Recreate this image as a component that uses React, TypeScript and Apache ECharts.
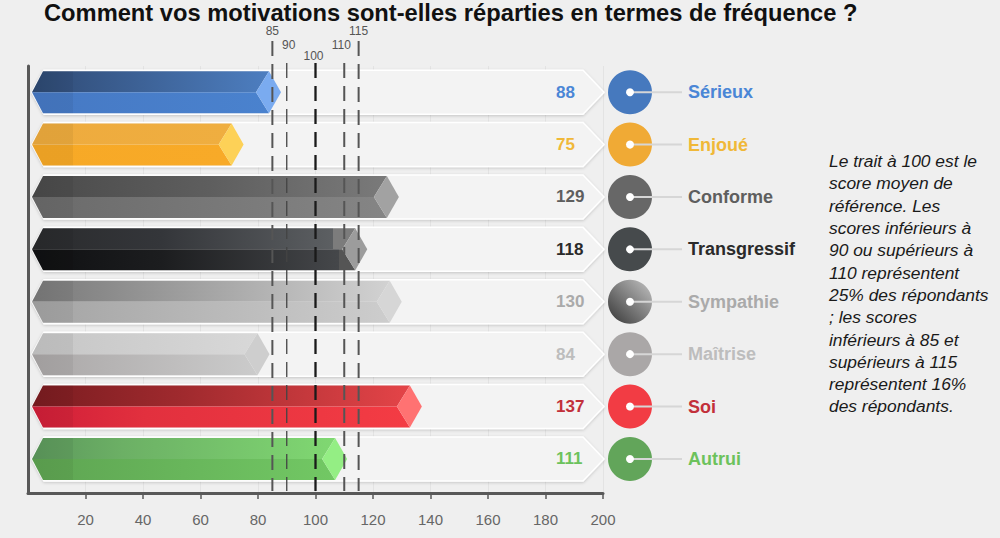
import React, { useEffect, useRef } from 'react';
import * as echarts from 'echarts';

const categories = ['Sérieux', 'Enjoué', 'Conforme', 'Transgressif', 'Sympathie', 'Maîtrise', 'Soi', 'Autrui'];
const scores = [88, 75, 129, 118, 130, 84, 137, 111];
const referenceValues = [85, 90, 100, 110, 115];
const referenceLabels = ['85', '90', '100', '110', '115'];
const axisMin = 0;
const axisMax = 200;
const axisInterval = 20;
const titleText = 'Comment vos motivations sont-elles réparties en termes de fréquence ?';
const noteLines = [
  'Le trait à 100 est le',
  'score moyen de',
  'référence. Les',
  'scores inférieurs à',
  '90 ou supérieurs à',
  '110 représentent',
  '25% des répondants',
  '; les scores',
  'inférieurs à 85 et',
  'supérieurs à 115',
  'représentent 16%',
  'des répondants.',
];

const FONT = '"Liberation Sans", Arial, sans-serif';

// styles (not data)
const palette = [
  { top: [[0, '#2d4870'], [0.15, '#34527f'], [1, '#4d7ec0']], bottom: [[0, '#4679c4'], [1, '#4a82ce']], cap: '#7aabf0', text: '#4a86d6', circle: '#4679be' },
  { top: [[0, '#eeab3e'], [1, '#efae40']], bottom: [[0, '#f7a926'], [1, '#f8aa28']], cap: '#fdd157', text: '#f0b838', circle: '#f0aa35' },
  { top: [[0, '#4a4a4a'], [0.5, '#5e5e5e'], [1, '#7a7a7a']], bottom: [[0, '#6a6a6a'], [1, '#858585']], cap: '#a2a2a2', text: '#5e5e5e', circle: '#676767' },
  { top: [[0, '#2a2b2d'], [0.4, '#34363a'], [0.93, '#5c5f62'], [0.93, '#7c7c7c'], [1, '#7c7c7c']], bottom: [[0, '#0f1012'], [0.4, '#1c1d1f'], [0.95, '#45474a'], [0.95, '#555555'], [1, '#555555']], cap: '#9c9c9c', text: '#2a2a2a', circle: '#464a4c' },
  { top: [[0, '#7a7a7a'], [0.2, '#8a8a8a'], [1, '#d2d2d2']], bottom: [[0, '#a4a4a4'], [1, '#cdcdcd']], cap: '#d6d6d6', text: '#aaaaaa', circle: 'gradient' },
  { top: [[0, '#c6c6c6'], [1, '#d8d8d8']], bottom: [[0, '#aaa7a7'], [1, '#cbcbcb']], cap: '#cecece', text: '#bdbdbd', circle: '#aaa7a7' },
  { top: [[0, '#7a1c20'], [0.4, '#a02a2e'], [1, '#e44448']], bottom: [[0, '#d01e38'], [0.3, '#e2303e'], [1, '#f43c44']], cap: '#ff7272', text: '#c2303a', circle: '#f23c44' },
  { top: [[0, '#5c985c'], [0.3, '#6cb065'], [1, '#80d872']], bottom: [[0, '#5ea452'], [1, '#72c864']], cap: '#94ee84', text: '#6cc25c', circle: '#62a55a' },
];

const refStyles = [
  { width: 2, color: '#555555', rise: 25, labelRise: 35, dx: 0 },
  { width: 1.3, color: '#444444', rise: 3, labelRise: 21, dx: 2 },
  { width: 2.3, color: '#1a1a1a', rise: 3, labelRise: 10, dx: -2 },
  { width: 2, color: '#555555', rise: 3, labelRise: 21, dx: -3 },
  { width: 2, color: '#555555', rise: 25, labelRise: 35, dx: 0 },
];

function grad(stops: any[]) {
  return new echarts.graphic.LinearGradient(0, 0, 1, 0, stops.map((s) => ({ offset: s[0], color: s[1] })));
}

export default function App() {
  const ref = useRef<HTMLDivElement>(null);

  useEffect(() => {
    if (!ref.current) return;
    const chart = echarts.init(ref.current, null, { renderer: 'svg' });

    const option: any = {
      animation: false,
      backgroundColor: '#efefef',
      grid: { left: 28, right: 397, top: 66, bottom: 45 },
      xAxis: {
        type: 'value',
        min: axisMin,
        max: axisMax,
        interval: axisInterval,
        axisLine: { show: true, onZero: false, lineStyle: { color: '#585858', width: 3 } },
        axisTick: { show: true, length: 6, lineStyle: { color: '#585858', width: 1.5 } },
        axisLabel: { showMinLabel: false, color: '#666666', fontSize: 15, margin: 19, fontFamily: FONT },
        splitLine: { show: true, lineStyle: { color: '#e3e3e3', width: 1 } },
      },
      yAxis: {
        type: 'value',
        min: -0.5,
        max: 7.65,
        inverse: true,
        axisLine: { show: true, onZero: false, lineStyle: { color: '#585858', width: 3 } },
        axisTick: { show: false },
        axisLabel: { show: false },
        splitLine: { show: false },
      },
      graphic: [
        {
          type: 'text',
          x: 44,
          y: 13,
          style: {
            text: titleText,
            font: `bold 23.7px ${FONT}`,
            fill: '#111111',
            align: 'left',
            verticalAlign: 'middle',
          },
        },
        {
          type: 'text',
          left: 829,
          top: 150,
          style: {
            text: noteLines.join('\n'),
            font: `italic 17.4px ${FONT}`,
            fill: '#1a1a1a',
            lineHeight: 22.3,
          },
        },
      ],
      series: [
        {
          type: 'custom',
          name: 'fond',
          data: categories.map((c, i) => [axisMax, i]),
          renderItem: (params: any, api: any) => {
            const i = api.value(1);
            const [xl, cy] = api.coord([axisMin, i]);
            const xr = api.coord([axisMax, i])[0];
            const x0 = xl + 4;
            const x1 = xr + 1;
            const h = 22;
            const p = palette[i];
            const circleFill =
              p.circle === 'gradient'
                ? new echarts.graphic.LinearGradient(1, 0, 0, 1, [
                    { offset: 0, color: '#c4c4c4' },
                    { offset: 1, color: '#353535' },
                  ])
                : p.circle;
            return {
              type: 'group',
              children: [
                {
                  type: 'polygon',
                  shape: { points: [[x0, cy], [x0 + 12, cy - h], [x1 - 21, cy - h], [x1, cy], [x1 - 21, cy + h], [x0 + 12, cy + h]] },
                  style: { fill: '#f3f3f3', stroke: '#ffffff', lineWidth: 1.5, shadowBlur: 3, shadowColor: 'rgba(0,0,0,0.18)', shadowOffsetY: 1 },
                },
                {
                  type: 'text',
                  style: { text: String(scores[i]), x: xr - 47, y: cy, fill: p.text, font: `bold 17px ${FONT}`, align: 'left', verticalAlign: 'middle' },
                },
                { type: 'circle', shape: { cx: xr + 27, cy, r: 22 }, style: { fill: circleFill } },
                { type: 'line', shape: { x1: xr + 27, y1: cy, x2: xr + 79, y2: cy }, style: { stroke: '#d6d6d6', lineWidth: 2 } },
                { type: 'circle', shape: { cx: xr + 27, cy, r: 4 }, style: { fill: '#ffffff' } },
                {
                  type: 'text',
                  style: { text: categories[i], x: xr + 85, y: cy, fill: p.text, font: `bold 18px ${FONT}`, align: 'left', verticalAlign: 'middle' },
                },
              ],
            };
          },
        },
        {
          type: 'custom',
          name: 'scores',
          data: scores.map((v, i) => [v, i]),
          renderItem: (params: any, api: any) => {
            const v = api.value(0);
            const i = api.value(1);
            const [xl, cy] = api.coord([axisMin, i]);
            const tip = api.coord([v, i])[0];
            const x0 = xl + 4;
            const h = 21;
            const p = palette[i];
            return {
              type: 'group',
              children: [
                {
                  type: 'polygon',
                  shape: { points: [[x0, cy], [x0 + 11, cy - h], [tip - 12, cy - h], [tip - 25, cy]] },
                  style: { fill: grad(p.top) },
                },
                {
                  type: 'polygon',
                  shape: { points: [[x0, cy], [x0 + 11, cy + h], [tip - 12, cy + h], [tip - 25, cy]] },
                  style: { fill: grad(p.bottom) },
                },
                {
                  type: 'polygon',
                  shape: { points: [[x0, cy], [x0 + 11, cy - h], [x0 + 41, cy - h], [x0 + 41, cy + h], [x0 + 11, cy + h]] },
                  style: { fill: 'rgba(0,0,0,0.05)' },
                },
                {
                  type: 'polygon',
                  shape: { points: [[tip - 25, cy], [tip - 12, cy - h], [tip, cy], [tip - 12, cy + h]] },
                  style: { fill: p.cap },
                },
              ],
            };
          },
        },
        {
          type: 'custom',
          name: 'références',
          data: referenceValues.map((v, k) => [v, k]),
          renderItem: (params: any, api: any) => {
            const v = api.value(0);
            const k = api.value(1);
            const s = refStyles[k];
            const x = api.coord([v, 0])[0];
            const top = params.coordSys.y;
            const bottom = params.coordSys.y + params.coordSys.height - 2;
            return {
              type: 'group',
              children: [
                {
                  type: 'line',
                  shape: { x1: x, y1: top - s.rise, x2: x, y2: bottom },
                  style: { stroke: s.color, lineWidth: s.width, lineDash: [15, 8] },
                },
                {
                  type: 'text',
                  style: { text: referenceLabels[k], x: x + s.dx, y: top - s.labelRise, fill: '#555555', font: `12px ${FONT}`, align: 'center', verticalAlign: 'middle' },
                },
              ],
            };
          },
        },
      ],
    };

    chart.setOption(option);
    return () => chart.dispose();
  }, []);

  return (
    <div
      ref={ref}
      style={{ position: 'fixed', left: 0, top: 0, width: 1000, height: 538, background: '#efefef' }}
    />
  );
}
